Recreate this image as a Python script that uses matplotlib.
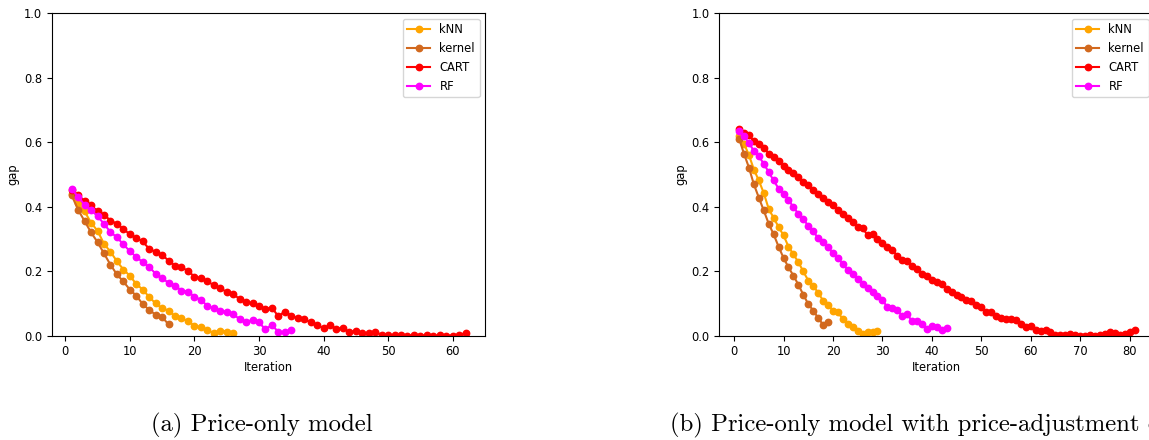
import matplotlib
matplotlib.use("Agg")
import matplotlib.pyplot as plt

# ---------------- data: (a) price-only model ----------------
a_knn = [0.44, 0.41, 0.385, 0.35, 0.325, 0.285, 0.26, 0.231, 0.205, 0.186,
         0.160, 0.143, 0.12, 0.10, 0.085, 0.078, 0.06, 0.054, 0.045, 0.031,
         0.026, 0.018, 0.008, 0.016, 0.013, 0.009]
a_kernel = [0.435, 0.39, 0.355, 0.32, 0.29, 0.255, 0.22, 0.19, 0.168, 0.143,
            0.124, 0.098, 0.08, 0.065, 0.058, 0.035]
a_cart = [0.45, 0.435, 0.418, 0.404, 0.386, 0.375, 0.357, 0.347, 0.331, 0.314,
          0.303, 0.292, 0.269, 0.260, 0.250, 0.233, 0.217, 0.212, 0.201, 0.183,
          0.178, 0.168, 0.157, 0.148, 0.135, 0.129, 0.114, 0.106, 0.100, 0.093,
          0.083, 0.087, 0.060, 0.075, 0.062, 0.055, 0.052, 0.041, 0.034, 0.023,
          0.033, 0.021, 0.024, 0.011, 0.015, 0.008, 0.008, 0.013, 0.002, 0.002,
          0.002, 0.001, 0.0, 0.002, 0.0, 0.002, 0.0, 0.001, 0.0, 0.0,
          0.002, 0.009]
a_rf = [0.455, 0.43, 0.406, 0.39, 0.37, 0.347, 0.321, 0.305, 0.283, 0.262,
        0.244, 0.228, 0.213, 0.192, 0.178, 0.164, 0.155, 0.140, 0.137, 0.121,
        0.111, 0.093, 0.085, 0.078, 0.074, 0.066, 0.052, 0.044, 0.048, 0.041,
        0.020, 0.033, 0.012, 0.011, 0.019]

# ---------------- data: (b) with price-adjustment ----------------
b_knn = [0.618, 0.595, 0.56, 0.515, 0.481, 0.442, 0.393, 0.365, 0.337, 0.311,
         0.276, 0.252, 0.228, 0.199, 0.171, 0.155, 0.133, 0.109, 0.095, 0.078,
         0.072, 0.052, 0.036, 0.028, 0.016, 0.006, 0.010, 0.013, 0.015]
b_kernel = [0.611, 0.564, 0.521, 0.469, 0.428, 0.388, 0.347, 0.314, 0.276, 0.241,
            0.212, 0.186, 0.158, 0.127, 0.098, 0.078, 0.055, 0.034, 0.041]
b_cart = [0.642, 0.628, 0.621, 0.603, 0.595, 0.583, 0.564, 0.554, 0.541, 0.525,
          0.512, 0.504, 0.491, 0.476, 0.466, 0.450, 0.440, 0.428, 0.414, 0.404,
          0.390, 0.376, 0.365, 0.352, 0.338, 0.334, 0.311, 0.314, 0.300, 0.287,
          0.276, 0.266, 0.248, 0.235, 0.232, 0.216, 0.207, 0.192, 0.186, 0.174,
          0.166, 0.161, 0.145, 0.137, 0.127, 0.119, 0.111, 0.107, 0.095, 0.090,
          0.072, 0.074, 0.060, 0.054, 0.052, 0.052, 0.049, 0.036, 0.026, 0.031,
          0.019, 0.016, 0.017, 0.010, 0.003, 0.002, 0.002, 0.005, 0.002, 0.0,
          0.0, 0.001, 0.0, 0.003, 0.005, 0.010, 0.007, 0.003, 0.005, 0.010,
          0.017]
b_rf = [0.635, 0.618, 0.598, 0.572, 0.556, 0.533, 0.507, 0.481, 0.456, 0.44,
        0.421, 0.398, 0.378, 0.363, 0.339, 0.324, 0.302, 0.29, 0.274, 0.255,
        0.240, 0.222, 0.204, 0.192, 0.176, 0.161, 0.148, 0.135, 0.124, 0.111,
        0.088, 0.085, 0.080, 0.062, 0.067, 0.045, 0.045, 0.036, 0.021, 0.031,
        0.026, 0.019, 0.023]

labels = ["kNN", "kernel", "CART", "RF"]
colors = ["orange", "chocolate", "red", "magenta"]
captions = ["(a) Price-only model",
            "(b) Price-only model with price-adjustment cost"]

FS = 8.3
plt.rcParams['font.size'] = FS

fig = plt.figure(figsize=(11.49, 4.40), dpi=100)
ax1 = fig.add_axes([0.04526, 0.2370, 0.3771, 0.7335])
ax2 = fig.add_axes([0.6260, 0.2370, 0.3786, 0.7335])

for ax, series in ((ax1, [a_knn, a_kernel, a_cart, a_rf]),
                   (ax2, [b_knn, b_kernel, b_cart, b_rf])):
    for vals, lab, col in zip(series, labels, colors):
        ax.plot(range(1, len(vals) + 1), vals, marker='o', markersize=4.6,
                linewidth=1.5, color=col, label=lab)
    ax.set_ylim(0, 1.0)
    ax.set_xlabel("Iteration", fontsize=FS, labelpad=2)
    ax.set_ylabel("gap", fontsize=FS, labelpad=3)
    ax.tick_params(labelsize=FS)
    ax.legend(loc='upper right', fontsize=FS)

ax1.set_xticks([0, 10, 20, 30, 40, 50, 60])
ax2.set_xticks([0, 10, 20, 30, 40, 50, 60, 70, 80])

fig.text(262 / 1149, 1 - 425 / 440, captions[0], fontfamily='cmr10',
         fontsize=17.8, ha='center', va='center')
fig.text(670 / 1149, 1 - 425 / 440, captions[1], fontfamily='cmr10',
         fontsize=17.8, ha='left', va='center')

fig.savefig("out.png", dpi=100)
